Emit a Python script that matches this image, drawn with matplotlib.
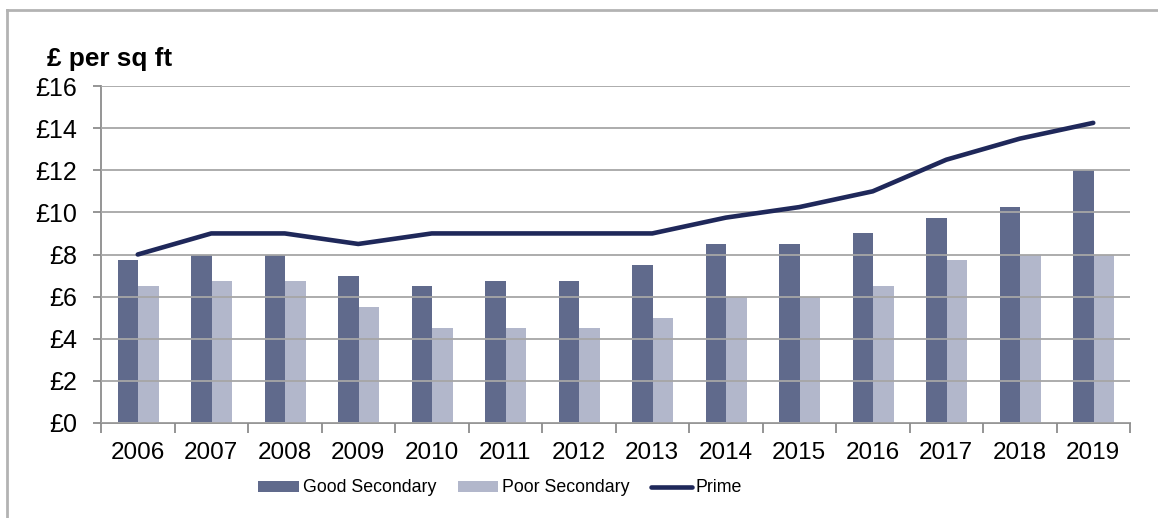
import matplotlib
matplotlib.use("Agg")
import matplotlib.pyplot as plt
from matplotlib.lines import Line2D
from matplotlib import font_manager
import numpy as np

years = ["2006", "2007", "2008", "2009", "2010", "2011", "2012",
         "2013", "2014", "2015", "2016", "2017", "2018", "2019"]
good_secondary = [7.75, 8, 8, 7, 6.5, 6.75, 6.75, 7.5, 8.5, 8.5, 9, 9.75, 10.25, 12]
poor_secondary = [6.5, 6.75, 6.75, 5.5, 4.5, 4.5, 4.5, 5, 6, 6, 6.5, 7.75, 8, 8]
prime = [8, 9, 9, 8.5, 9, 9, 9, 9, 9.75, 10.25, 11, 12.5, 13.5, 14.25]
y_ticks = [0, 2, 4, 6, 8, 10, 12, 14, 16]

plt.rcParams["font.family"] = ["Liberation Sans", "DejaVu Sans"]

available = {f.name for f in font_manager.fontManager.ttflist}
legend_family = "Liberation Sans Narrow" if "Liberation Sans Narrow" in available else "Liberation Sans"
legend_size = 13.8 if legend_family == "Liberation Sans Narrow" else 12.8

GOOD = "#606a8c"
POOR = "#b2b7cb"
PRIME = "#1f285a"
GRID = "#a6a6a6"

fig = plt.figure(figsize=(11.58, 5.18), dpi=100)
ax = fig.add_axes([101 / 1158, 1 - 423 / 518, (1130 - 101) / 1158, (423 - 86) / 518])

x = np.arange(len(years))
w = 0.28
h_good = ax.bar(x - 0.135, good_secondary, width=w, color=GOOD, zorder=2, label="Good Secondary")
h_poor = ax.bar(x + 0.145, poor_secondary, width=w, color=POOR, zorder=2, label="Poor Secondary")
h_prime, = ax.plot(x, prime, color=PRIME, lw=3.3, zorder=4, label="Prime", solid_capstyle="round")

ax.set_xlim(-0.5, len(years) - 0.5)
ax.set_ylim(0, 16)
ax.set_yticks(y_ticks)
ax.set_yticklabels([f"£{v}" for v in y_ticks])
for v in y_ticks:
    ax.axhline(v, color=GRID, lw=1.3, zorder=3)

ax.set_xticks(x)
ax.set_xticklabels(years)
ax.set_xticks(np.arange(-0.5, len(years)), minor=True)
ax.tick_params(axis="x", which="major", length=0, pad=14, labelsize=17.5)
ax.tick_params(axis="x", which="minor", length=7, width=1.3, color="#8c8c8c")
ax.tick_params(axis="y", length=6, width=1.3, color="#8c8c8c", pad=11, labelsize=18)

for s in ["top", "right"]:
    ax.spines[s].set_visible(False)
ax.spines["left"].set_color("#8c8c8c")
ax.spines["left"].set_linewidth(1.3)
ax.spines["bottom"].set_color("#8c8c8c")
ax.spines["bottom"].set_linewidth(1.3)

fig.text(47 / 1158, 1 - 66 / 518, "£ per sq ft", fontsize=18.8, fontweight="bold",
         ha="left", va="baseline")

fig.legend(handles=[h_good, h_poor, h_prime],
           loc="center", bbox_to_anchor=(500 / 1158, 1 - 488 / 518), ncol=3,
           frameon=False, prop={"family": legend_family, "size": legend_size},
           handlelength=2.3, handleheight=0.6, handletextpad=0.2, columnspacing=1.2)

# outer frame (top and left edges)
fig.add_artist(Line2D([7 / 1158, 7 / 1158], [0, 1 - 10 / 518], color="#b3b3b3", lw=2,
                      transform=fig.transFigure))
fig.add_artist(Line2D([7 / 1158, 1], [1 - 10 / 518, 1 - 10 / 518], color="#b3b3b3", lw=2,
                      transform=fig.transFigure))

fig.savefig("out.png", dpi=100)
